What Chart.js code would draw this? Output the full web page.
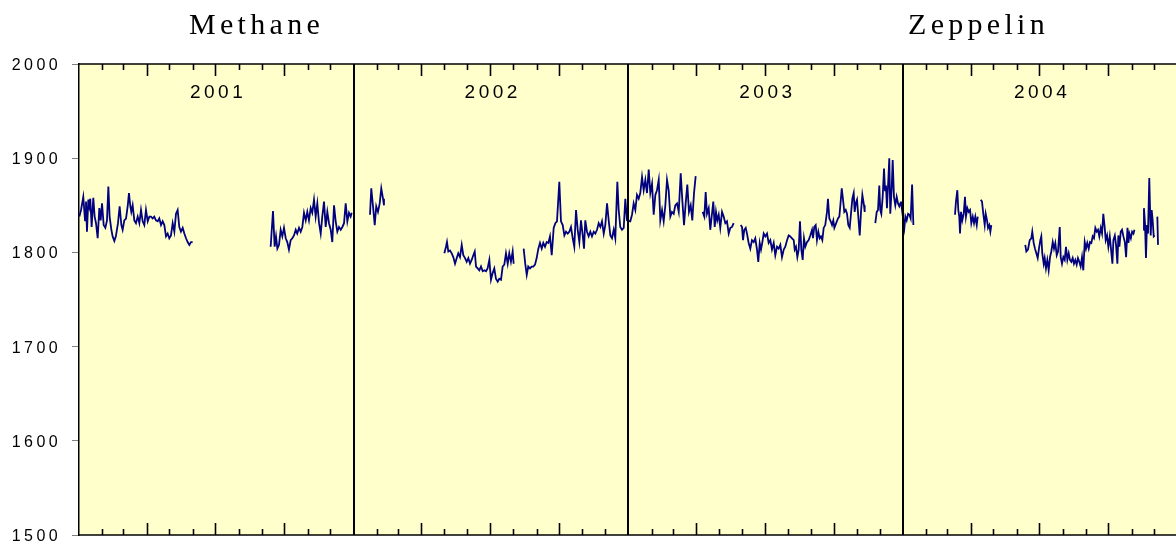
<!DOCTYPE html>
<html>
<head>
<meta charset="utf-8">
<script src="https://cdn.jsdelivr.net/npm/chart.js@4/dist/chart.umd.min.js"></script>
<style>
  html, body { margin: 0; padding: 0; background: #ffffff; }
  #wrap { width: 1176px; height: 545px; position: relative; }
</style>
</head>
<body>
<div id="wrap"><canvas id="c" width="1176" height="545"></canvas></div>
<script>
// ---- DATA (x = day counted from 1 Jan 2001, y = CH4 in ppb; null = no data) ----
const titles = ['Methane', 'Zeppelin'];
const yearLabels = ['2001', '2002', '2003', '2004'];
const yTicks = [1500, 1600, 1700, 1800, 1900, 2000];
const monthEnds = [31, 59, 90, 120, 151, 181, 212, 243, 273, 304, 334];
const quarterEnds = [90, 181, 273];

const days2001 = [0.5, 2.7,5.7,8,9.3,10.6,12.4,13.7,15,16.8,19,20.8,22.6,24.8,27,28.8,30.6,32.8,35,37.2,39,40.7,43,44.7,47,49,51.8,54,56.3,58,60.2,62.5,64.7,66.4,68.2,69.5,71.3,73.5,75.7,78,80.2,82.4,84.6,86.8,89,91.3,93.5,95.7,97.9,100,102.3,104.6,106.7,109,111.2,113.4,115.6,117.8,120,122.2,124.5,126.7,128.9,131.1,133.3,135.5,137.8,140,142.2,144.4,146.6,148.8,151,
  200,
  254.7,257.8,260,261.8,263.6,265.8,268,270.2,272.4,274.7,276.8,279,281.3,283.5,285.7,288,290,292.4,294.6,296.8,299,301.3,303.4,305.6,307.9,310,312.3,314.5,316.7,319,321.2,323.3,325.6,327.8,330,332.2,334.5,336.6,338.9,341.1,343.3,345.5,347.8,350,352.2,354.4,356.6,358.8,361,362.4];
const ch4_2001 = [1838, 1845,1859,1834,1854,1822,1856,1849,1857,1827,1858,1838,1831,1815,1847,1834,1852,1829,1826,1834,1870,1838,1824,1817,1812,1817,1831,1849,1829,1824,1834,1836,1849,1863,1849,1843,1850,1834,1831,1838,1831,1845,1833,1829,1845,1833,1838,1838,1836,1838,1834,1833,1836,1829,1833,1829,1817,1820,1815,1818,1831,1822,1841,1845,1827,1822,1826,1820,1815,1811,1808,1811,1811,
  null,
  1806,1844,1806,1817,1804,1808,1824,1817,1826,1815,1811,1803,1813,1815,1818,1824,1820,1826,1822,1827,1842,1834,1843,1834,1847,1842,1856,1838,1852,1831,1820,1838,1854,1827,1843,1831,1824,1811,1850,1833,1822,1827,1824,1827,1831,1852,1833,1842,1838,1842];

const days2002 = [375,
  386.7,388.4,390.7,393,395,397.3,399.6,401.7,404,405.3,
  440,
  485.5,487.7,489,490.8,493,495.3,497.4,499.7,502,504,506.3,508.6,510.7,513,515.2,517.4,519.6,521.8,524,525.9,527.6,529.8,532,534.2,536.5,538.7,540.9,543,545.3,547.5,549.7,551.9,554.1,556.4,558.5,560.8,563,565.2,567.4,569.7,571.8,574,576.3,577.6,
  584,
  590.9,593,595,597,599.3,601.6,603.7,606,608.2,610.4,612.6,614.9,617,619.3,621.5,623.7,625.9,628.2,
  630.8,633,635.2,638.3,640.5,642.8,645,647.2,649.4,651.6,653.8,656.1,658.2,660.5,662.7,664.9,667.1,669.4,671.1,672.8,675.1,677.3,679.5,681.7,684,686.1,688.4,690.6,692.8,695,697.3,699.4,701.7,703.9,706.1,708.3,710.6,712.7,715.4,717.2,719.3,721.6,723.9,726,728.2];
const ch4_2002 = [null,
  1840,1868,1849,1829,1849,1843,1852,1868,1857,1850,
  null,
  1799,1806,1811,1801,1802,1799,1795,1788,1794,1799,1795,1808,1797,1794,1790,1794,1788,1792,1797,1801,1785,1783,1781,1785,1780,1781,1780,1783,1792,1771,1778,1783,1772,1769,1772,1771,1785,1787,1799,1788,1799,1790,1801,1788,
  null,
  1804,1788,1776,1785,1783,1785,1785,1787,1794,1804,1810,1804,1810,1806,1811,1810,1817,1797,
  1826,1831,1833,1875,1833,1829,1818,1822,1820,1822,1827,1815,1806,1845,1824,1811,1834,1818,1804,1834,1822,1817,1822,1817,1822,1820,1824,1831,1827,1833,1820,1829,1852,1834,1818,1815,1824,1815,1875,1845,1827,1824,1826,1857,1834];

const days2003 = [732.6,734.9,737.1,739.3,741.5,743.8,745.9,748.2,750.4,752.6,754.8,757.1,759.2,761.5,763.7,765.9,768.1,770.4,772.5,774.8,777,779.1,781.4,783.6,785.8,
  788,790.3,792.4,794.7,797,799.6,801.7,804,806.2,808.4,810.6,812.9,815,817.3,819.5,
  824,
  828.8,831,832.8,834.5,836.8,838.9,841.2,842.9,844.8,846.5,848.2,850.1,852.2,854.5,856.7,858.9,861.1,863.4,865.5,867.8,870,
  875,
  879.3,881.1,882.4,884.1,886,887.7,889.9,892.1,894.3,896.6,898.7,901,902.7,904.6,906.3,908.1,909.9,912,914.3,916.5,918.7,920.9,923.2,925.3,927.6,929.8,932,934.2,936.5,938.6,940.9,943.1,945.2,947.5,
  949.8,951.1,952.8,954.6,956.4,958.1,959.9,961.7,963.4,965.2,967.5,969.7,971.8,974.1,975.4,977.1,979,980.7,982.5,984.3,986,987.8,989.6,991.7,994,995.3,997.1,998.9,1000.7,1002.4,1003.8,
  1008.6,1010.4,1012.2,1013.6,1015.3,1017,1018.9,1020.6,1022.3,1024.2,1025.9,1027.7,1029.5,1030.8,1032.2,1033.9,1035.6,1037.5,1039.2,1041,1043.2,1044.1,
  1050,
  1058.2,1060.1,1061.8,1063.5,1064.8,1066.2,1068,1069.8,1071.1,1072.4,1073.7,1075.1,1076.8,1078.1,1080,1081.3,1083,1084.8,1086.6,1088.4,1090.1,1091.4,1092.3];
const ch4_2003 = [1833,1840,1852,1845,1861,1857,1863,1880,1866,1877,1863,1888,1863,1873,1840,1861,1866,1877,1834,1845,1833,1849,1877,1866,1838,
  1843,1841,1850,1852,1843,1884,1856,1829,1852,1872,1843,1850,1834,1863,1881,
  null,
  1843,1838,1864,1841,1847,1824,1841,1854,1827,1843,1834,1840,1826,1843,1838,1831,1833,1820,1826,1827,1831,
  null,
  1829,1827,1813,1824,1826,1820,1810,1804,1813,1811,1815,1803,1790,1810,1803,1811,1820,1817,1820,1810,1813,1803,1810,1797,1806,1804,1808,1795,1803,1806,1813,1818,1817,1815,
  1813,1803,1806,1795,1803,1833,1803,1792,1815,1806,1811,1813,1818,1824,1815,1827,1829,1813,1822,1815,1817,1813,1826,1829,1843,1857,1836,1833,1829,1834,1826,
  1836,1838,1854,1868,1856,1843,1845,1841,1829,1826,1841,1857,1863,1843,1852,1856,1838,1818,1843,1861,1850,1843,
  null,
  1831,1843,1845,1871,1845,1841,1859,1889,1866,1871,1847,1870,1900,1841,1868,1898,1859,1850,1859,1852,1849,1852,1854];

const days2004 = [1095.5,1096.8,1098.2,1099.9,1101.8,1103.5,1105.2,1107.1,1108.8,
  1130,
  1164.1,1165.4,1167.2,1168.5,1169.8,1170.8,1172.1,1173.8,1175.7,1177.4,1178.7,1180.5,1182.3,1184.1,1185.8,1187.7,1189.4,1191.1,1193,1194.3,
  1196,
  1198.3,1200,1201.7,1203.6,1204.9,1206.7,1208,1209.7,1211.1,1212.4,
  1230,
  1257.5,1258.9,1261.1,1263.4,1265.5,1266.8,1268.7,1270.4,1272.2,1274,1275.7,1277.5,1278.8,1280.1,1282,1283.3,1285,1286.8,1288.6,1290.4,1292.1,1294,1295.7,1297.4,1299.3,1301,1303.3,1304.6,1306.3,1308.1,1309.9,1311.6,1313.4,1315.2,1316.9,1318.7,1320.5,1322.2,1324,1325.8,1327.5,1329.3,1331.1,1332.9,1334.6,1336.5,1338.2,1339.9,1341.8,1343.5,1345.3,1347.1,1348.8,1350.6,1352.5,1354.2,1355.9,1357.8,1359.5,1361.2,1363.1,1364.4,1366.2,1367.9,1369.8,1371.5,1373.3,1374.6,1376.5,1378.1,1379.9,1381.2,1382.6,1384.4,1386.1,1387.9,1389.8,1391.5,1393.3,1394.6,1395.9,1397.8,1399.5,1401.3,1402.6,
  1408,
  1414.3,1415.2,1416.6,1417.9,1419.2,1420.6,1422.3,1424.2,1425.5,1426.8,1428.2,1429.5,
  1431,
  1433,1433.9];
const ch4_2004 = [1834,1826,1838,1834,1841,1840,1836,1872,1829,
  null,
  1840,1854,1866,1845,1838,1820,1843,1834,1841,1859,1838,1847,1843,1845,1831,1838,1831,1838,1829,1838,
  null,
  1856,1854,1841,1829,1841,1834,1826,1829,1822,1829,
  null,
  1808,1801,1803,1813,1815,1822,1810,1804,1799,1794,1804,1813,1817,1799,1788,1794,1783,1792,1781,1795,1801,1811,1804,1810,1797,1801,1827,1795,1788,1795,1792,1806,1792,1799,1792,1790,1794,1788,1792,1787,1794,1790,1785,1795,1781,1811,1804,1810,1804,1811,1810,1817,1815,1826,1822,1824,1817,1826,1820,1841,1826,1813,1818,1806,1817,1803,1788,1813,1818,1808,1788,1818,1806,1822,1824,1817,1811,1795,1826,1810,1820,1815,1822,1820,1824,
  null,
  1824,1847,1831,1794,1829,1820,1879,1818,1845,1834,1817,1818,
  null,
  1838,1808];

// ---- build the series ----
const allDays = [].concat(days2001, days2002, days2003, days2004);
const allCh4 = [].concat(ch4_2001, ch4_2002, ch4_2003, ch4_2004);
const points = allDays.map((d, i) => ({ x: d, y: allCh4[i] }));

const DAYS_PER_YEAR = 365;
const X_MAX = 1457.8; // visible right edge of the plot (plot is cut by the page edge)

const yLabelSpacing = 3.4;

const decor = {
  id: 'decor',
  beforeDraw(chart) {
    const { ctx, chartArea: a } = chart;
    ctx.save();
    ctx.fillStyle = '#FFFFCC';
    ctx.fillRect(a.left, a.top, a.right - a.left, a.bottom - a.top);
    ctx.restore();
    ctx.letterSpacing = yLabelSpacing + 'px';
  },
  afterDraw(chart) {
    const { ctx, chartArea: a, scales: { x } } = chart;
    ctx.save();
    ctx.letterSpacing = '0px';
    const line = (x1, y1, x2, y2) => { ctx.beginPath(); ctx.moveTo(x1, y1); ctx.lineTo(x2, y2); ctx.stroke(); };
    // month ticks (inward, top and bottom)
    ctx.strokeStyle = '#000';
    ctx.lineWidth = 1.6;
    for (let yr = 0; yr < yearLabels.length; yr++) {
      for (const m of monthEnds) {
        const px = Math.round(x.getPixelForValue(yr * DAYS_PER_YEAR + m)) + 0.5;
        if (px > a.right) continue;
        const len = quarterEnds.includes(m) ? 12 : 6;
        line(px, a.top, px, a.top + len);
        line(px, a.bottom, px, a.bottom - len);
      }
    }
    // year dividers
    ctx.lineWidth = 2;
    for (let yr = 1; yr < yearLabels.length; yr++) {
      const px = Math.round(x.getPixelForValue(yr * DAYS_PER_YEAR));
      line(px, a.top, px, a.bottom);
    }
    // top & bottom frame
    ctx.lineWidth = 1.5;
    line(a.left, a.top, a.right, a.top);
    line(a.left, a.bottom, a.right, a.bottom);
    // year labels
    ctx.fillStyle = '#000';
    ctx.font = '19px "Liberation Sans", Arial, sans-serif';
    ctx.letterSpacing = '3.5px';
    ctx.textAlign = 'center';
    ctx.textBaseline = 'alphabetic';
    yearLabels.forEach((lab, i) => {
      const px = x.getPixelForValue(i * DAYS_PER_YEAR + DAYS_PER_YEAR / 2);
      ctx.fillText(lab, px + 1.75, 97.5);
    });
    // titles
    ctx.font = '30px "Liberation Serif", "Times New Roman", serif';
    ctx.letterSpacing = '4.3px';
    ctx.textAlign = 'left';
    ctx.fillText(titles[0], 189, 33.5);
    ctx.fillText(titles[1], 908, 33.5);
    ctx.restore();
  }
};

new Chart(document.getElementById('c'), {
  type: 'line',
  data: {
    datasets: [{
      data: points,
      borderColor: '#000080',
      borderWidth: 1.8,
      pointRadius: 0,
      tension: 0,
      spanGaps: false,
      fill: false
    }]
  },
  options: {
    responsive: false,
    animation: false,
    devicePixelRatio: 1,
    layout: { padding: { top: 64, right: 0, bottom: 10, left: 0 } },
    plugins: { legend: { display: false }, tooltip: { enabled: false }, title: { display: false } },
    scales: {
      x: { type: 'linear', min: 0, max: X_MAX, display: false },
      y: {
        min: 1500, max: 2000,
        afterFit: (s) => { s.width = 79; s.paddingTop = 0; s.paddingBottom = 0; },
        afterBuildTicks: (s) => { s.ticks = yTicks.map(v => ({ value: v })); },
        ticks: {
          padding: 11,
          labelOffset: 1.5,
          color: '#000',
          font: { family: '"Liberation Sans", Arial, sans-serif', size: 16, lineHeight: 1 },
          callback: (v) => String(v)
        },
        grid: { drawOnChartArea: false, drawTicks: true, tickLength: 7, color: '#808080', lineWidth: 1 },
        border: { display: true, color: '#000', width: 1.5 }
      }
    }
  },
  plugins: [decor]
});
</script>
</body>
</html>
